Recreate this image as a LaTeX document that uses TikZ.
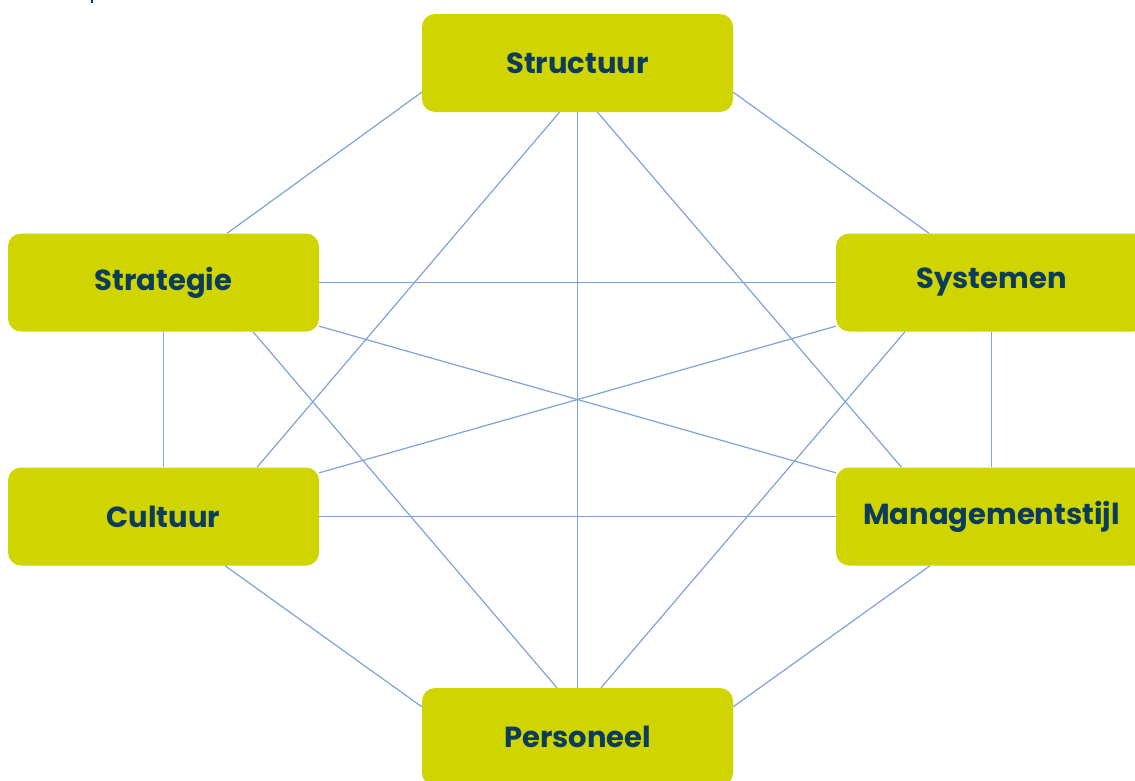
\documentclass[tikz,border=0pt]{standalone}
\usepackage{fontspec}
\setmainfont{Poppins}
\usetikzlibrary{backgrounds}
\definecolor{boxfill}{RGB}{208,212,0}
\definecolor{txtc}{RGB}{12,60,92}
\definecolor{linkc}{RGB}{125,163,218}
\begin{document}
\begin{tikzpicture}[x=1pt,y=1pt,
  box/.style={rectangle, rounded corners=13pt, fill=boxfill, minimum width=311pt,
    minimum height=98pt, inner sep=0pt, font=\fontsize{29}{34}\selectfont\bfseries, text=txtc},
  linkline/.style={draw=linkc, line width=1.2pt}]
\useasboundingbox (0,0) rectangle (1135,-780);
\fill[txtc] (91,0) rectangle (93,-3);
\node[box] (st) at (577.5,-63) {Structuur};
\node[box] (sg) at (163.5,-282.5) {Strategie};
\node[box] (sy) at (991.5,-282.5) {Systemen};
\node[box] (cu) at (163.5,-516.5) {Cultuur};
\node[box] (ma) at (991.5,-516.5) {Managementstijl};
\node[box] (pe) at (577.5,-737) {Personeel};
\begin{scope}[on background layer]
\draw[linkline] ([yshift=20pt]st.south west) -- ([xshift=63.5pt]sg.north);
\draw[linkline] ([yshift=20pt]st.south east) -- ([xshift=-62.5pt]sy.north);
\draw[linkline] ([xshift=-18pt]st.south) -- ([xshift=93.5pt]cu.north);
\draw[linkline] ([xshift=20pt]st.south) -- ([xshift=-90pt]ma.north);
\draw[linkline] (st.south) -- (pe.north);
\draw[linkline] (sg.east) -- (sy.west);
\draw[linkline] (sg.south) -- (cu.north);
\draw[linkline] ([yshift=5.5pt]sg.south east) -- ([yshift=-5.5pt]ma.north west);
\draw[linkline] ([xshift=89.5pt]sg.south) -- ([xshift=-20.5pt]pe.north);
\draw[linkline] ([yshift=5.5pt]sy.south west) -- ([yshift=-5.5pt]cu.north east);
\draw[linkline] (sy.south) -- (ma.north);
\draw[linkline] ([xshift=-86.5pt]sy.south) -- ([xshift=23.5pt]pe.north);
\draw[linkline] (cu.east) -- (ma.west);
\draw[linkline] ([xshift=61.5pt]cu.south) -- ([yshift=-19pt]pe.north west);
\draw[linkline] ([xshift=-61.5pt]ma.south) -- ([yshift=-19pt]pe.north east);
\end{scope}
\end{tikzpicture}
\end{document}
